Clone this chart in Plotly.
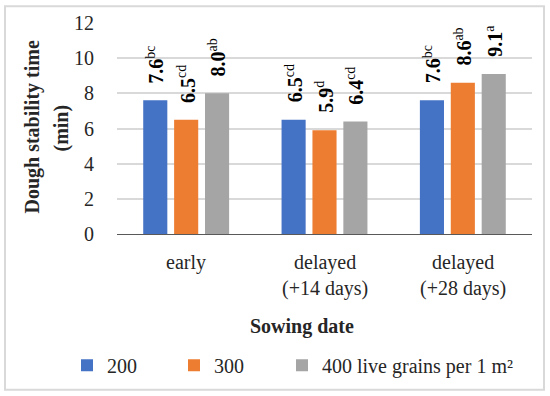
import plotly.graph_objects as go

categories = ["early", "delayed<br>(+14 days)", "delayed<br>(+28 days)"]
series_names = ["200", "300", "400 live grains per 1 m²"]
values_200 = [7.6, 6.5, 7.6]
values_300 = [6.5, 5.9, 8.6]
values_400 = [8.0, 6.4, 9.1]
letters_200 = ["bc", "cd", "bc"]
letters_300 = ["cd", "d", "ab"]
letters_400 = ["ab", "cd", "a"]
colors = ["#4472C4", "#ED7D31", "#A5A5A5"]

FONT = "Liberation Serif, serif"
TXT = "#262626"
W, H = 550, 396
L, R, T, B = 117, 18, 20, 162
pw, ph = W - L - R, H - T - B

def px_x(p):
    return (p - L) / pw

def px_y(p):
    return (H - B - p) / ph

bargap = 0.33
fig = go.Figure()
all_vals = [values_200, values_300, values_400]
all_letters = [letters_200, letters_300, letters_400]
xidx = list(range(len(categories)))
legend_ids = ["legend", "legend2", "legend3"]
legend_px = [67, 174, 282]
for name, vals, col, lg in zip(series_names, all_vals, colors, legend_ids):
    fig.add_trace(go.Bar(x=xidx, y=vals, name=name, marker_color=col,
                         marker_line_width=0, legend=lg))

annotations = []
slot = (1 - bargap) / 3
for s, (vals, lets) in enumerate(zip(all_vals, all_letters)):
    for i, (v, l) in enumerate(zip(vals, lets)):
        annotations.append(dict(
            x=i + (s - 1) * slot, y=v, xref="x", yref="y",
            text=f"<b>{v:.1f}</b><sup>{l}</sup>", showarrow=False,
            textangle=-90, yanchor="bottom", xanchor="center", yshift=15,
            font=dict(family=FONT, size=20, color="#000000")))

# category labels
for i, c in enumerate(categories):
    for j, line in enumerate(c.split("<br>")):
        annotations.append(dict(
            x=i, y=px_y(263 + 26 * j), xref="x", yref="paper",
            text=line, showarrow=False, xanchor="center", yanchor="middle",
            font=dict(family=FONT, size=20, color=TXT)))

# axis titles
annotations.append(dict(x=px_x(302), y=px_y(328), xref="paper", yref="paper",
                        text="<b>Sowing date</b>", showarrow=False,
                        xanchor="center", yanchor="middle",
                        font=dict(family=FONT, size=20, color=TXT)))
annotations.append(dict(x=px_x(33), y=px_y(126), xref="paper", yref="paper",
                        text="<b>Dough stability time</b>", showarrow=False,
                        textangle=-90, xanchor="center", yanchor="middle",
                        font=dict(family=FONT, size=20, color=TXT)))
annotations.append(dict(x=px_x(62), y=px_y(126), xref="paper", yref="paper",
                        text="<b>(min)</b>", showarrow=False,
                        textangle=-90, xanchor="center", yanchor="middle",
                        font=dict(family=FONT, size=20, color=TXT)))

legend_layout = {}
for lg, lx in zip(legend_ids, legend_px):
    legend_layout[lg] = dict(orientation="h", x=px_x(lx), y=px_y(367),
                             xanchor="left", yanchor="middle",
                             font=dict(family=FONT, size=20, color=TXT),
                             itemwidth=30, bgcolor="rgba(0,0,0,0)")

fig.update_layout(
    width=W, height=H,
    margin=dict(l=L, r=R, t=T, b=B),
    paper_bgcolor="white", plot_bgcolor="white",
    barmode="group", bargap=bargap, bargroupgap=0.22,
    font=dict(family=FONT, size=20, color=TXT),
    xaxis=dict(tickvals=xidx, showticklabels=False, range=[-0.5, 2.5],
               showgrid=False, zeroline=False, showline=False, ticks=""),
    yaxis=dict(range=[0, 12], dtick=2, gridcolor="#D9D9D9", gridwidth=1.5,
               zeroline=True, zerolinecolor="#595959", zerolinewidth=1.2,
               ticks="outside", ticklen=18, tickcolor="rgba(0,0,0,0)",
               tickfont=dict(family=FONT, size=20, color=TXT),
               showline=False),
    showlegend=True,
    annotations=annotations,
    shapes=[dict(type="rect", xref="paper", yref="paper",
                 x0=px_x(5), x1=px_x(544), y0=px_y(392), y1=px_y(3),
                 line=dict(color="#D9D9D9", width=2))],
    **legend_layout,
)

fig.write_html("out.html", config={"displayModeBar": False},
               post_script="document.body.style.margin='0';")
